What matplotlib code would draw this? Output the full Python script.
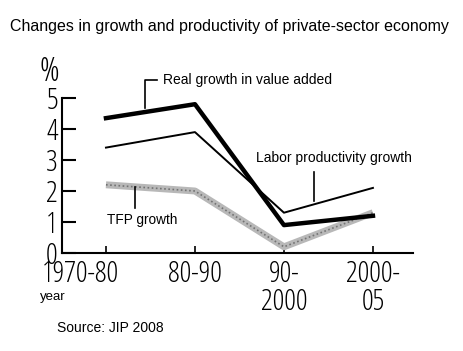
import matplotlib.pyplot as plt
from matplotlib.transforms import ScaledTranslation

periods = ["1970-80", "80-90", "90-\n2000", "2000-\n05"]
real_growth = [4.35, 4.8, 0.9, 1.2]
labor_prod = [3.4, 3.9, 1.3, 2.1]
tfp = [2.2, 2.0, 0.2, 1.3]
yticks = [0, 1, 2, 3, 4, 5]

plt.rcParams['font.family'] = ["Liberation Sans", "DejaVu Sans"]
narrow = dict(family="Open Sans", stretch="condensed", weight="light")

fig = plt.figure(figsize=(4.63, 3.51), dpi=100)
ax = fig.add_axes([62 / 463, 98 / 351, 351 / 463, 155 / 351])

x = list(range(len(periods)))
ax.plot(x, tfp, color="0.72", lw=5, solid_capstyle="butt")
ax.plot(x, tfp, color="0.45", lw=1.2, ls=(0, (1, 1.5)))
ax.plot(x, labor_prod, color="black", lw=1.4)
ax.plot(x, real_growth, color="black", lw=3.2)

ax.set_xlim(-0.494, 3.45)
ax.set_ylim(0, 5)
ax.set_xticks(x)
ax.set_xticklabels(periods, fontsize=21, linespacing=0.92, **narrow)
ax.set_yticks(yticks)
ax.set_yticklabels([str(v) for v in yticks], fontsize=21, **narrow)
ax.tick_params(axis="y", direction="in", length=10, width=1.5, pad=3)
ax.tick_params(axis="x", direction="in", length=5, width=1.2, pad=5)
first = ax.get_xticklabels()[0]
first.set_transform(first.get_transform() + ScaledTranslation(-0.26, 0, fig.dpi_scale_trans))
for s in ["top", "right"]:
    ax.spines[s].set_visible(False)
ax.spines["left"].set_linewidth(1.5)
ax.spines["bottom"].set_linewidth(1.5)

# labels with leader lines
ax.text(0.64, 5.58, "Real growth in value added", fontsize=10, va="center", clip_on=False)
ax.plot([0.573, 0.438, 0.438], [5.58, 5.58, 4.68], color="black", lw=1.2, clip_on=False)
ax.text(1.685, 3.06, "Labor productivity growth", fontsize=10, va="center")
ax.plot([2.337, 2.337], [2.61, 1.68], color="black", lw=1.2)
ax.text(0.01, 1.06, "TFP growth", fontsize=9.8, va="center")
ax.plot([0.326, 0.326], [2.13, 1.45], color="black", lw=1.2)

fig.text(49 / 463, 1 - 72 / 351, "%", fontsize=24, ha="center", va="center", **narrow)
fig.text(10 / 463, 1 - 27 / 351, "Changes in growth and productivity of private-sector economy",
         fontsize=11.5, va="center")
fig.text(40 / 463, 1 - 297 / 351, "year", fontsize=9.5, va="center")
fig.text(57 / 463, 1 - 328 / 351, "Source: JIP 2008", fontsize=10, va="center")

fig.savefig("out.png", dpi=100)
